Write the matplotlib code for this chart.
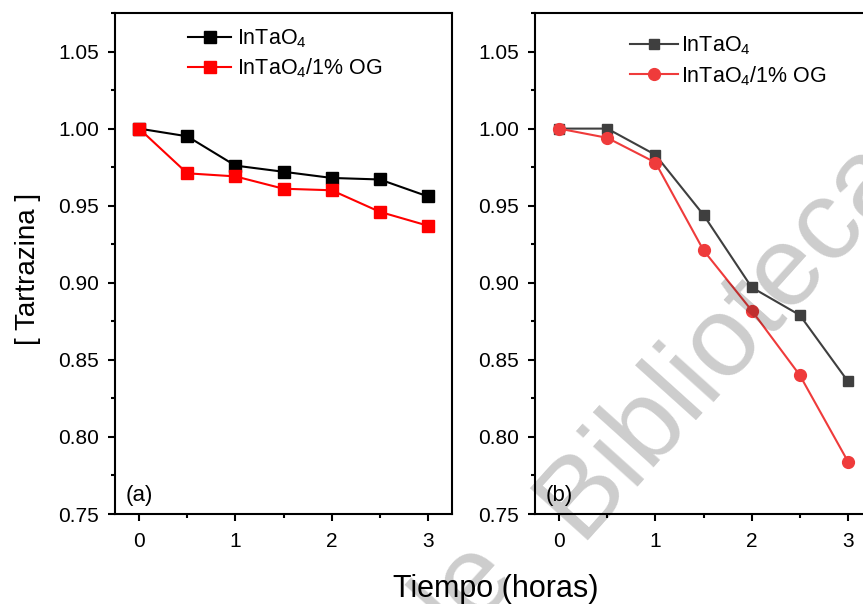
import numpy as np
import matplotlib
matplotlib.use("Agg")
import matplotlib.pyplot as plt
from matplotlib.ticker import MultipleLocator, FormatStrFormatter

plt.rcParams['font.family'] = ['Liberation Sans', 'DejaVu Sans']
plt.rcParams['mathtext.fontset'] = 'custom'
plt.rcParams['mathtext.rm'] = 'Liberation Sans'
plt.rcParams['mathtext.default'] = 'regular'

# data
t = [0, 0.5, 1, 1.5, 2, 2.5, 3]
a_intao4 = [1.000, 0.995, 0.976, 0.972, 0.968, 0.967, 0.956]
a_og = [1.000, 0.971, 0.969, 0.961, 0.960, 0.946, 0.937]
b_intao4 = [1.000, 1.000, 0.983, 0.944, 0.897, 0.879, 0.836]
b_og = [1.000, 0.994, 0.978, 0.921, 0.882, 0.840, 0.784]
labels = ["InTaO$_4$", "InTaO$_4$/1% OG"]

fig = plt.figure(figsize=(8.63, 6.04), dpi=100)
ax1 = fig.add_axes([0.1333, 0.149, 0.3905, 0.8295])
ax2 = fig.add_axes([0.620, 0.149, 0.3905, 0.8295])

ax1.plot(t, a_intao4, '-s', color='black', lw=1.5, ms=8, label=labels[0])
ax1.plot(t, a_og, '-s', color='#ff0000', lw=1.5, ms=8, label=labels[1])
ax2.plot(t, b_intao4, '-s', color='#3f3f3f', lw=1.5, ms=7.5, label=labels[0])
ax2.plot(t, b_og, '-o', color='#ef3b3b', lw=1.5, ms=8.5, label=labels[1])

for ax, tag in [(ax1, "(a)"), (ax2, "(b)")]:
    ax.set_xlim(-0.25, 3.25)
    ax.set_ylim(0.75, 1.075)
    ax.xaxis.set_major_locator(MultipleLocator(1))
    ax.xaxis.set_minor_locator(MultipleLocator(0.5))
    ax.yaxis.set_major_locator(MultipleLocator(0.05))
    ax.yaxis.set_minor_locator(MultipleLocator(0.025))
    ax.yaxis.set_major_formatter(FormatStrFormatter('%.2f'))
    ax.tick_params(which='both', direction='out', top=False, right=False,
                   width=1.5, labelsize=15)
    ax.tick_params(which='major', length=5)
    ax.tick_params(which='minor', length=3)
    ax.tick_params(axis='x', which='major', pad=8)
    ax.tick_params(axis='y', which='major', pad=6.5)
    for s in ax.spines.values():
        s.set_linewidth(1.5)
    ax.text(0.03, 0.025, tag, transform=ax.transAxes, fontsize=16)

ax1.legend(loc='upper left', bbox_to_anchor=(0.16, 1.01), frameon=False,
           fontsize=15.5, handlelength=2.0, handletextpad=0.25, labelspacing=0.3)
ax2.legend(loc='upper left', bbox_to_anchor=(0.225, 0.995), frameon=False,
           fontsize=15.5, handlelength=2.2, handletextpad=0.15, labelspacing=0.3)

fig.text(0.033, 0.555, "[ Tartrazina ]", rotation=90, ha='center', va='center', fontsize=20)
fig.text(0.574, 0.025, "Tiempo (horas)", ha='center', va='center', fontsize=22)

# watermark
wm = dict(rotation=48, ha='center', va='center', fontsize=82,
          color='black', alpha=0.2, zorder=10)
fig.text(0.8586, 0.4768, "Bibliotecas", **wm)
fig.text(0.527, 0.0, "de", **wm)

fig.savefig("out.png", dpi=100)
